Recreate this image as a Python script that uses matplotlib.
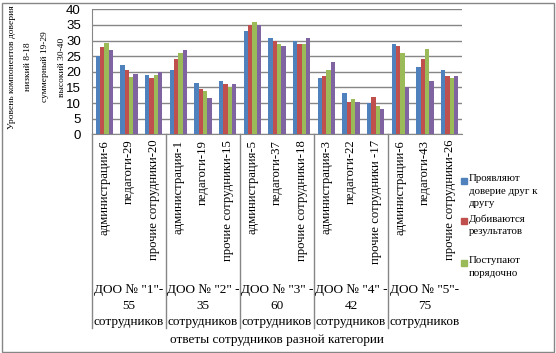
import numpy as np
import matplotlib
matplotlib.use("Agg")
import matplotlib.pyplot as plt
from matplotlib.patches import Rectangle

categories = [
    "администрации-6", "педагоги-29", "прочие сотрудники-20",
    "администрация-1", "педагоги-19", "прочие сотрудники-15",
    "администрация-5", "педагоги-37", "прочие сотрудники-18",
    "администрация-3", "педагоги-22", "прочие сотрудники -17",
    "администрации-6", "педагоги-43", "прочие сотрудники-26",
]
groups = [
    'ДОО № "1"-\n55\nсотрудников',
    'ДОО № "2" -\n35\nсотрудников',
    'ДОО № "3" -\n60\nсотрудников',
    'ДОО № "4" -\n42\nсотрудников',
    'ДОО № "5"-\n75\nсотрудников',
]
ylabel_lines = ["Уровень компонентов доверия", "низкий 8-18",
                "суммерный 19-29", "высокий 30-40"]
series_names = [
    "Проявляют\nдоверие друг к\nдругу",
    "Добиваются\nрезультатов",
    "Поступают\nпорядочно",
]
trust = [25.0, 22.3, 19.0, 20.7, 16.4, 17.1, 33.2, 30.9, 30.0, 17.9, 13.1, 10.0, 29.0, 21.4, 20.7]
results = [28.0, 20.5, 18.0, 24.0, 14.5, 16.0, 35.0, 30.0, 29.0, 18.8, 10.3, 11.9, 28.1, 24.2, 18.8]
decent = [29.1, 18.2, 19.0, 25.9, 13.8, 15.0, 36.0, 29.0, 29.0, 20.7, 11.2, 9.0, 25.9, 27.4, 17.9]
fourth = [27.0, 19.2, 20.0, 27.1, 11.7, 16.0, 35.0, 28.1, 30.9, 23.0, 10.3, 8.1, 15.0, 17.0, 18.8]

colors = ["#4F81BD", "#C0504D", "#9BBB59", "#8064A2"]
grid_c = "#868686"
serif = "Liberation Serif"

fig = plt.figure(figsize=(5.56, 3.53), dpi=100)
ax = fig.add_axes([92 / 556, 1 - 134.3 / 353, 370 / 556, 125 / 353])

x = np.arange(len(categories))
w = 0.175
for i, vals in enumerate([trust, results, decent, fourth]):
    ax.bar(x + (i - 1.5) * w, vals, w, color=colors[i], zorder=3)

ax.set_xlim(-0.5, len(categories) - 0.5)
ax.set_ylim(0, 40)
ax.set_yticks(np.arange(0, 41, 5))
ax.yaxis.grid(True, color=grid_c, lw=1)
ax.set_axisbelow(True)
for s in ["top", "right"]:
    ax.spines[s].set_visible(False)
for s in ["left", "bottom"]:
    ax.spines[s].set_color(grid_c)
ax.tick_params(axis="y", length=0, pad=8, labelsize=9.5)
for t in ax.get_yticklabels():
    t.set_fontfamily("Liberation Sans")
ax.set_xticks(x)
ax.set_xticklabels(categories, rotation=90, fontsize=9.2, family=serif, va="top")
ax.tick_params(axis="x", length=0, pad=4)

# group separators and labels
trans = ax.get_xaxis_transform()
for g in range(len(groups)):
    ax.plot([g * 3 - 0.5] * 2, [0, -1.55], color=grid_c, lw=1,
            transform=trans, clip_on=False)
for g, lab in enumerate(groups):
    ax.text(g * 3 + 1, -1.375, lab, transform=trans, ha="center", va="center",
            fontsize=9.5, family=serif, linespacing=1.45)

fig.text(277 / 556, 1 - 340 / 353, "ответы сотрудников разной категории",
         ha="center", va="center", fontsize=9.5, family=serif)

# y axis title, one line per text
for xx, line in zip([12, 28.5, 45, 61.5], ylabel_lines):
    fig.text(xx / 556, 1 - 67 / 353, line, rotation=90, ha="center",
             va="center", fontsize=6.8, family=serif)

# legend
legend_y = [181, 221, 263]
for name, c, yy in zip(series_names, colors, legend_y):
    fig.add_artist(Rectangle((461 / 556, 1 - (yy + 3) / 353), 6 / 556, 6 / 353,
                             transform=fig.transFigure, color=c))
    fig.text(469 / 556, 1 - (yy - 7) / 353, name, ha="left", va="top",
             fontsize=7.8, family=serif, linespacing=1.5)

fig.add_artist(Rectangle((1.5 / 556, 1.5 / 353), 552 / 556, 349 / 353,
                         transform=fig.transFigure, fill=False,
                         edgecolor=grid_c, lw=1))

fig.savefig("out.png", dpi=100)
